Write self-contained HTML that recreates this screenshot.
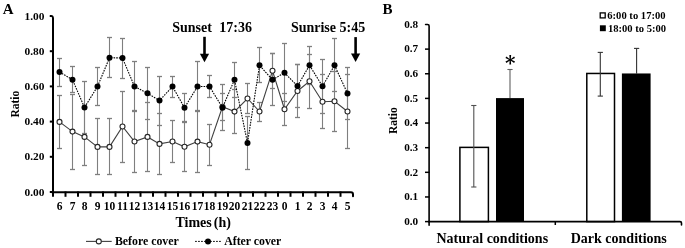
<!DOCTYPE html><html><head><meta charset="utf-8"><style>html,body{margin:0;padding:0;background:#fff;}svg{display:block;} text{font-family:"Liberation Serif","Times New Roman",serif;font-weight:bold;fill:#000;}</style></head><body>
<svg width="685" height="248" viewBox="0 0 685 248">
<rect x="0" y="0" width="685" height="248" fill="#fff"/>
<text x="2.7" y="13.8" font-size="15">A</text>
<line x1="59.50" y1="95.50" x2="59.50" y2="148.50" stroke="#7f7f7f" stroke-width="1.1"/><line x1="57.00" y1="95.50" x2="62.00" y2="95.50" stroke="#7f7f7f" stroke-width="1.3"/><line x1="57.00" y1="148.50" x2="62.00" y2="148.50" stroke="#7f7f7f" stroke-width="1.3"/>
<line x1="72.50" y1="94.50" x2="72.50" y2="169.50" stroke="#7f7f7f" stroke-width="1.1"/><line x1="70.00" y1="94.50" x2="75.00" y2="94.50" stroke="#7f7f7f" stroke-width="1.3"/><line x1="70.00" y1="169.50" x2="75.00" y2="169.50" stroke="#7f7f7f" stroke-width="1.3"/>
<line x1="84.50" y1="108.50" x2="84.50" y2="165.50" stroke="#7f7f7f" stroke-width="1.1"/><line x1="82.00" y1="108.50" x2="87.00" y2="108.50" stroke="#7f7f7f" stroke-width="1.3"/><line x1="82.00" y1="165.50" x2="87.00" y2="165.50" stroke="#7f7f7f" stroke-width="1.3"/>
<line x1="97.50" y1="118.50" x2="97.50" y2="174.50" stroke="#7f7f7f" stroke-width="1.1"/><line x1="95.00" y1="118.50" x2="100.00" y2="118.50" stroke="#7f7f7f" stroke-width="1.3"/><line x1="95.00" y1="174.50" x2="100.00" y2="174.50" stroke="#7f7f7f" stroke-width="1.3"/>
<line x1="109.50" y1="118.50" x2="109.50" y2="174.50" stroke="#7f7f7f" stroke-width="1.1"/><line x1="107.00" y1="118.50" x2="112.00" y2="118.50" stroke="#7f7f7f" stroke-width="1.3"/><line x1="107.00" y1="174.50" x2="112.00" y2="174.50" stroke="#7f7f7f" stroke-width="1.3"/>
<line x1="122.50" y1="91.50" x2="122.50" y2="162.50" stroke="#7f7f7f" stroke-width="1.1"/><line x1="120.00" y1="91.50" x2="125.00" y2="91.50" stroke="#7f7f7f" stroke-width="1.3"/><line x1="120.00" y1="162.50" x2="125.00" y2="162.50" stroke="#7f7f7f" stroke-width="1.3"/>
<line x1="134.50" y1="110.50" x2="134.50" y2="172.50" stroke="#7f7f7f" stroke-width="1.1"/><line x1="132.00" y1="110.50" x2="137.00" y2="110.50" stroke="#7f7f7f" stroke-width="1.3"/><line x1="132.00" y1="172.50" x2="137.00" y2="172.50" stroke="#7f7f7f" stroke-width="1.3"/>
<line x1="147.50" y1="102.50" x2="147.50" y2="171.50" stroke="#7f7f7f" stroke-width="1.1"/><line x1="145.00" y1="102.50" x2="150.00" y2="102.50" stroke="#7f7f7f" stroke-width="1.3"/><line x1="145.00" y1="171.50" x2="150.00" y2="171.50" stroke="#7f7f7f" stroke-width="1.3"/>
<line x1="159.50" y1="113.50" x2="159.50" y2="174.50" stroke="#7f7f7f" stroke-width="1.1"/><line x1="157.00" y1="113.50" x2="162.00" y2="113.50" stroke="#7f7f7f" stroke-width="1.3"/><line x1="157.00" y1="174.50" x2="162.00" y2="174.50" stroke="#7f7f7f" stroke-width="1.3"/>
<line x1="172.50" y1="120.50" x2="172.50" y2="162.50" stroke="#7f7f7f" stroke-width="1.1"/><line x1="170.00" y1="120.50" x2="175.00" y2="120.50" stroke="#7f7f7f" stroke-width="1.3"/><line x1="170.00" y1="162.50" x2="175.00" y2="162.50" stroke="#7f7f7f" stroke-width="1.3"/>
<line x1="184.50" y1="122.50" x2="184.50" y2="171.50" stroke="#7f7f7f" stroke-width="1.1"/><line x1="182.00" y1="122.50" x2="187.00" y2="122.50" stroke="#7f7f7f" stroke-width="1.3"/><line x1="182.00" y1="171.50" x2="187.00" y2="171.50" stroke="#7f7f7f" stroke-width="1.3"/>
<line x1="197.50" y1="110.50" x2="197.50" y2="172.50" stroke="#7f7f7f" stroke-width="1.1"/><line x1="195.00" y1="110.50" x2="200.00" y2="110.50" stroke="#7f7f7f" stroke-width="1.3"/><line x1="195.00" y1="172.50" x2="200.00" y2="172.50" stroke="#7f7f7f" stroke-width="1.3"/>
<line x1="209.50" y1="124.50" x2="209.50" y2="165.50" stroke="#7f7f7f" stroke-width="1.1"/><line x1="207.00" y1="124.50" x2="212.00" y2="124.50" stroke="#7f7f7f" stroke-width="1.3"/><line x1="207.00" y1="165.50" x2="212.00" y2="165.50" stroke="#7f7f7f" stroke-width="1.3"/>
<line x1="222.50" y1="93.50" x2="222.50" y2="120.50" stroke="#7f7f7f" stroke-width="1.1"/><line x1="220.00" y1="93.50" x2="225.00" y2="93.50" stroke="#7f7f7f" stroke-width="1.3"/><line x1="220.00" y1="120.50" x2="225.00" y2="120.50" stroke="#7f7f7f" stroke-width="1.3"/>
<line x1="234.50" y1="89.50" x2="234.50" y2="133.50" stroke="#7f7f7f" stroke-width="1.1"/><line x1="232.00" y1="89.50" x2="237.00" y2="89.50" stroke="#7f7f7f" stroke-width="1.3"/><line x1="232.00" y1="133.50" x2="237.00" y2="133.50" stroke="#7f7f7f" stroke-width="1.3"/>
<line x1="247.50" y1="83.50" x2="247.50" y2="113.50" stroke="#7f7f7f" stroke-width="1.1"/><line x1="245.00" y1="83.50" x2="250.00" y2="83.50" stroke="#7f7f7f" stroke-width="1.3"/><line x1="245.00" y1="113.50" x2="250.00" y2="113.50" stroke="#7f7f7f" stroke-width="1.3"/>
<line x1="259.50" y1="102.50" x2="259.50" y2="121.50" stroke="#7f7f7f" stroke-width="1.1"/><line x1="257.00" y1="102.50" x2="262.00" y2="102.50" stroke="#7f7f7f" stroke-width="1.3"/><line x1="257.00" y1="121.50" x2="262.00" y2="121.50" stroke="#7f7f7f" stroke-width="1.3"/>
<line x1="272.50" y1="53.50" x2="272.50" y2="88.50" stroke="#7f7f7f" stroke-width="1.1"/><line x1="270.00" y1="53.50" x2="275.00" y2="53.50" stroke="#7f7f7f" stroke-width="1.3"/><line x1="270.00" y1="88.50" x2="275.00" y2="88.50" stroke="#7f7f7f" stroke-width="1.3"/>
<line x1="284.50" y1="93.50" x2="284.50" y2="125.50" stroke="#7f7f7f" stroke-width="1.1"/><line x1="282.00" y1="93.50" x2="287.00" y2="93.50" stroke="#7f7f7f" stroke-width="1.3"/><line x1="282.00" y1="125.50" x2="287.00" y2="125.50" stroke="#7f7f7f" stroke-width="1.3"/>
<line x1="297.50" y1="64.50" x2="297.50" y2="117.50" stroke="#7f7f7f" stroke-width="1.1"/><line x1="295.00" y1="64.50" x2="300.00" y2="64.50" stroke="#7f7f7f" stroke-width="1.3"/><line x1="295.00" y1="117.50" x2="300.00" y2="117.50" stroke="#7f7f7f" stroke-width="1.3"/>
<line x1="309.50" y1="54.50" x2="309.50" y2="108.50" stroke="#7f7f7f" stroke-width="1.1"/><line x1="307.00" y1="54.50" x2="312.00" y2="54.50" stroke="#7f7f7f" stroke-width="1.3"/><line x1="307.00" y1="108.50" x2="312.00" y2="108.50" stroke="#7f7f7f" stroke-width="1.3"/>
<line x1="322.50" y1="74.50" x2="322.50" y2="128.50" stroke="#7f7f7f" stroke-width="1.1"/><line x1="320.00" y1="74.50" x2="325.00" y2="74.50" stroke="#7f7f7f" stroke-width="1.3"/><line x1="320.00" y1="128.50" x2="325.00" y2="128.50" stroke="#7f7f7f" stroke-width="1.3"/>
<line x1="334.50" y1="71.50" x2="334.50" y2="131.50" stroke="#7f7f7f" stroke-width="1.1"/><line x1="332.00" y1="71.50" x2="337.00" y2="71.50" stroke="#7f7f7f" stroke-width="1.3"/><line x1="332.00" y1="131.50" x2="337.00" y2="131.50" stroke="#7f7f7f" stroke-width="1.3"/>
<line x1="347.50" y1="74.50" x2="347.50" y2="148.50" stroke="#7f7f7f" stroke-width="1.1"/><line x1="345.00" y1="74.50" x2="350.00" y2="74.50" stroke="#7f7f7f" stroke-width="1.3"/><line x1="345.00" y1="148.50" x2="350.00" y2="148.50" stroke="#7f7f7f" stroke-width="1.3"/>
<line x1="59.50" y1="58.50" x2="59.50" y2="86.50" stroke="#7f7f7f" stroke-width="1.1"/><line x1="57.00" y1="58.50" x2="62.00" y2="58.50" stroke="#7f7f7f" stroke-width="1.3"/><line x1="57.00" y1="86.50" x2="62.00" y2="86.50" stroke="#7f7f7f" stroke-width="1.3"/>
<line x1="72.50" y1="66.50" x2="72.50" y2="92.50" stroke="#7f7f7f" stroke-width="1.1"/><line x1="70.00" y1="66.50" x2="75.00" y2="66.50" stroke="#7f7f7f" stroke-width="1.3"/><line x1="70.00" y1="92.50" x2="75.00" y2="92.50" stroke="#7f7f7f" stroke-width="1.3"/>
<line x1="84.50" y1="81.50" x2="84.50" y2="133.50" stroke="#7f7f7f" stroke-width="1.1"/><line x1="82.00" y1="81.50" x2="87.00" y2="81.50" stroke="#7f7f7f" stroke-width="1.3"/><line x1="82.00" y1="133.50" x2="87.00" y2="133.50" stroke="#7f7f7f" stroke-width="1.3"/>
<line x1="97.50" y1="67.50" x2="97.50" y2="105.50" stroke="#7f7f7f" stroke-width="1.1"/><line x1="95.00" y1="67.50" x2="100.00" y2="67.50" stroke="#7f7f7f" stroke-width="1.3"/><line x1="95.00" y1="105.50" x2="100.00" y2="105.50" stroke="#7f7f7f" stroke-width="1.3"/>
<line x1="109.50" y1="37.50" x2="109.50" y2="77.50" stroke="#7f7f7f" stroke-width="1.1"/><line x1="107.00" y1="37.50" x2="112.00" y2="37.50" stroke="#7f7f7f" stroke-width="1.3"/><line x1="107.00" y1="77.50" x2="112.00" y2="77.50" stroke="#7f7f7f" stroke-width="1.3"/>
<line x1="122.50" y1="38.50" x2="122.50" y2="78.50" stroke="#7f7f7f" stroke-width="1.1"/><line x1="120.00" y1="38.50" x2="125.00" y2="38.50" stroke="#7f7f7f" stroke-width="1.3"/><line x1="120.00" y1="78.50" x2="125.00" y2="78.50" stroke="#7f7f7f" stroke-width="1.3"/>
<line x1="134.50" y1="61.50" x2="134.50" y2="111.50" stroke="#7f7f7f" stroke-width="1.1"/><line x1="132.00" y1="61.50" x2="137.00" y2="61.50" stroke="#7f7f7f" stroke-width="1.3"/><line x1="132.00" y1="111.50" x2="137.00" y2="111.50" stroke="#7f7f7f" stroke-width="1.3"/>
<line x1="147.50" y1="67.50" x2="147.50" y2="119.50" stroke="#7f7f7f" stroke-width="1.1"/><line x1="145.00" y1="67.50" x2="150.00" y2="67.50" stroke="#7f7f7f" stroke-width="1.3"/><line x1="145.00" y1="119.50" x2="150.00" y2="119.50" stroke="#7f7f7f" stroke-width="1.3"/>
<line x1="159.50" y1="76.50" x2="159.50" y2="125.50" stroke="#7f7f7f" stroke-width="1.1"/><line x1="157.00" y1="76.50" x2="162.00" y2="76.50" stroke="#7f7f7f" stroke-width="1.3"/><line x1="157.00" y1="125.50" x2="162.00" y2="125.50" stroke="#7f7f7f" stroke-width="1.3"/>
<line x1="172.50" y1="76.50" x2="172.50" y2="97.50" stroke="#7f7f7f" stroke-width="1.1"/><line x1="170.00" y1="76.50" x2="175.00" y2="76.50" stroke="#7f7f7f" stroke-width="1.3"/><line x1="170.00" y1="97.50" x2="175.00" y2="97.50" stroke="#7f7f7f" stroke-width="1.3"/>
<line x1="184.50" y1="93.50" x2="184.50" y2="121.50" stroke="#7f7f7f" stroke-width="1.1"/><line x1="182.00" y1="93.50" x2="187.00" y2="93.50" stroke="#7f7f7f" stroke-width="1.3"/><line x1="182.00" y1="121.50" x2="187.00" y2="121.50" stroke="#7f7f7f" stroke-width="1.3"/>
<line x1="197.50" y1="61.50" x2="197.50" y2="111.50" stroke="#7f7f7f" stroke-width="1.1"/><line x1="195.00" y1="61.50" x2="200.00" y2="61.50" stroke="#7f7f7f" stroke-width="1.3"/><line x1="195.00" y1="111.50" x2="200.00" y2="111.50" stroke="#7f7f7f" stroke-width="1.3"/>
<line x1="209.50" y1="75.50" x2="209.50" y2="97.50" stroke="#7f7f7f" stroke-width="1.1"/><line x1="207.00" y1="75.50" x2="212.00" y2="75.50" stroke="#7f7f7f" stroke-width="1.3"/><line x1="207.00" y1="97.50" x2="212.00" y2="97.50" stroke="#7f7f7f" stroke-width="1.3"/>
<line x1="222.50" y1="84.50" x2="222.50" y2="130.50" stroke="#7f7f7f" stroke-width="1.1"/><line x1="220.00" y1="84.50" x2="225.00" y2="84.50" stroke="#7f7f7f" stroke-width="1.3"/><line x1="220.00" y1="130.50" x2="225.00" y2="130.50" stroke="#7f7f7f" stroke-width="1.3"/>
<line x1="234.50" y1="62.50" x2="234.50" y2="97.50" stroke="#7f7f7f" stroke-width="1.1"/><line x1="232.00" y1="62.50" x2="237.00" y2="62.50" stroke="#7f7f7f" stroke-width="1.3"/><line x1="232.00" y1="97.50" x2="237.00" y2="97.50" stroke="#7f7f7f" stroke-width="1.3"/>
<line x1="247.50" y1="116.50" x2="247.50" y2="169.50" stroke="#7f7f7f" stroke-width="1.1"/><line x1="245.00" y1="116.50" x2="250.00" y2="116.50" stroke="#7f7f7f" stroke-width="1.3"/><line x1="245.00" y1="169.50" x2="250.00" y2="169.50" stroke="#7f7f7f" stroke-width="1.3"/>
<line x1="259.50" y1="47.50" x2="259.50" y2="82.50" stroke="#7f7f7f" stroke-width="1.1"/><line x1="257.00" y1="47.50" x2="262.00" y2="47.50" stroke="#7f7f7f" stroke-width="1.3"/><line x1="257.00" y1="82.50" x2="262.00" y2="82.50" stroke="#7f7f7f" stroke-width="1.3"/>
<line x1="272.50" y1="53.50" x2="272.50" y2="105.50" stroke="#7f7f7f" stroke-width="1.1"/><line x1="270.00" y1="53.50" x2="275.00" y2="53.50" stroke="#7f7f7f" stroke-width="1.3"/><line x1="270.00" y1="105.50" x2="275.00" y2="105.50" stroke="#7f7f7f" stroke-width="1.3"/>
<line x1="284.50" y1="43.50" x2="284.50" y2="101.50" stroke="#7f7f7f" stroke-width="1.1"/><line x1="282.00" y1="43.50" x2="287.00" y2="43.50" stroke="#7f7f7f" stroke-width="1.3"/><line x1="282.00" y1="101.50" x2="287.00" y2="101.50" stroke="#7f7f7f" stroke-width="1.3"/>
<line x1="297.50" y1="64.50" x2="297.50" y2="107.50" stroke="#7f7f7f" stroke-width="1.1"/><line x1="295.00" y1="64.50" x2="300.00" y2="64.50" stroke="#7f7f7f" stroke-width="1.3"/><line x1="295.00" y1="107.50" x2="300.00" y2="107.50" stroke="#7f7f7f" stroke-width="1.3"/>
<line x1="309.50" y1="46.50" x2="309.50" y2="84.50" stroke="#7f7f7f" stroke-width="1.1"/><line x1="307.00" y1="46.50" x2="312.00" y2="46.50" stroke="#7f7f7f" stroke-width="1.3"/><line x1="307.00" y1="84.50" x2="312.00" y2="84.50" stroke="#7f7f7f" stroke-width="1.3"/>
<line x1="322.50" y1="59.50" x2="322.50" y2="113.50" stroke="#7f7f7f" stroke-width="1.1"/><line x1="320.00" y1="59.50" x2="325.00" y2="59.50" stroke="#7f7f7f" stroke-width="1.3"/><line x1="320.00" y1="113.50" x2="325.00" y2="113.50" stroke="#7f7f7f" stroke-width="1.3"/>
<line x1="334.50" y1="38.50" x2="334.50" y2="91.50" stroke="#7f7f7f" stroke-width="1.1"/><line x1="332.00" y1="38.50" x2="337.00" y2="38.50" stroke="#7f7f7f" stroke-width="1.3"/><line x1="332.00" y1="91.50" x2="337.00" y2="91.50" stroke="#7f7f7f" stroke-width="1.3"/>
<line x1="347.50" y1="67.50" x2="347.50" y2="119.50" stroke="#7f7f7f" stroke-width="1.1"/><line x1="345.00" y1="67.50" x2="350.00" y2="67.50" stroke="#7f7f7f" stroke-width="1.3"/><line x1="345.00" y1="119.50" x2="350.00" y2="119.50" stroke="#7f7f7f" stroke-width="1.3"/>
<polyline points="59.50,121.90 72.50,131.60 84.50,136.90 97.50,146.90 109.50,146.90 122.50,126.50 134.50,141.50 147.50,136.90 159.50,143.90 172.50,141.50 184.50,146.80 197.50,141.60 209.50,144.70 222.50,106.70 234.50,111.60 247.50,98.50 259.50,111.50 272.50,70.80 284.50,109.20 297.50,91.00 309.50,81.20 322.50,101.70 334.50,101.30 347.50,111.50" fill="none" stroke="#404040" stroke-width="1.1"/>
<polyline points="59.50,72.00 72.50,79.70 84.50,107.50 97.50,86.50 109.50,57.70 122.50,58.00 134.50,86.50 147.50,93.30 159.50,100.60 172.50,86.50 184.50,107.70 197.50,86.50 209.50,86.50 222.50,107.70 234.50,79.70 247.50,143.00 259.50,65.30 272.50,79.70 284.50,72.80 297.50,86.10 309.50,65.30 322.50,86.30 334.50,65.30 347.50,93.40" fill="none" stroke="#000" stroke-width="1.1" stroke-dasharray="1.6,1.1"/>
<circle cx="59.50" cy="121.90" r="2.5" fill="#fff" stroke="#262626" stroke-width="1.1"/>
<circle cx="72.50" cy="131.60" r="2.5" fill="#fff" stroke="#262626" stroke-width="1.1"/>
<circle cx="84.50" cy="136.90" r="2.5" fill="#fff" stroke="#262626" stroke-width="1.1"/>
<circle cx="97.50" cy="146.90" r="2.5" fill="#fff" stroke="#262626" stroke-width="1.1"/>
<circle cx="109.50" cy="146.90" r="2.5" fill="#fff" stroke="#262626" stroke-width="1.1"/>
<circle cx="122.50" cy="126.50" r="2.5" fill="#fff" stroke="#262626" stroke-width="1.1"/>
<circle cx="134.50" cy="141.50" r="2.5" fill="#fff" stroke="#262626" stroke-width="1.1"/>
<circle cx="147.50" cy="136.90" r="2.5" fill="#fff" stroke="#262626" stroke-width="1.1"/>
<circle cx="159.50" cy="143.90" r="2.5" fill="#fff" stroke="#262626" stroke-width="1.1"/>
<circle cx="172.50" cy="141.50" r="2.5" fill="#fff" stroke="#262626" stroke-width="1.1"/>
<circle cx="184.50" cy="146.80" r="2.5" fill="#fff" stroke="#262626" stroke-width="1.1"/>
<circle cx="197.50" cy="141.60" r="2.5" fill="#fff" stroke="#262626" stroke-width="1.1"/>
<circle cx="209.50" cy="144.70" r="2.5" fill="#fff" stroke="#262626" stroke-width="1.1"/>
<circle cx="222.50" cy="106.70" r="2.5" fill="#fff" stroke="#262626" stroke-width="1.1"/>
<circle cx="234.50" cy="111.60" r="2.5" fill="#fff" stroke="#262626" stroke-width="1.1"/>
<circle cx="247.50" cy="98.50" r="2.5" fill="#fff" stroke="#262626" stroke-width="1.1"/>
<circle cx="259.50" cy="111.50" r="2.5" fill="#fff" stroke="#262626" stroke-width="1.1"/>
<circle cx="272.50" cy="70.80" r="2.5" fill="#fff" stroke="#262626" stroke-width="1.1"/>
<circle cx="284.50" cy="109.20" r="2.5" fill="#fff" stroke="#262626" stroke-width="1.1"/>
<circle cx="297.50" cy="91.00" r="2.5" fill="#fff" stroke="#262626" stroke-width="1.1"/>
<circle cx="309.50" cy="81.20" r="2.5" fill="#fff" stroke="#262626" stroke-width="1.1"/>
<circle cx="322.50" cy="101.70" r="2.5" fill="#fff" stroke="#262626" stroke-width="1.1"/>
<circle cx="334.50" cy="101.30" r="2.5" fill="#fff" stroke="#262626" stroke-width="1.1"/>
<circle cx="347.50" cy="111.50" r="2.5" fill="#fff" stroke="#262626" stroke-width="1.1"/>
<circle cx="59.50" cy="72.00" r="3" fill="#000"/>
<circle cx="72.50" cy="79.70" r="3" fill="#000"/>
<circle cx="84.50" cy="107.50" r="3" fill="#000"/>
<circle cx="97.50" cy="86.50" r="3" fill="#000"/>
<circle cx="109.50" cy="57.70" r="3" fill="#000"/>
<circle cx="122.50" cy="58.00" r="3" fill="#000"/>
<circle cx="134.50" cy="86.50" r="3" fill="#000"/>
<circle cx="147.50" cy="93.30" r="3" fill="#000"/>
<circle cx="159.50" cy="100.60" r="3" fill="#000"/>
<circle cx="172.50" cy="86.50" r="3" fill="#000"/>
<circle cx="184.50" cy="107.70" r="3" fill="#000"/>
<circle cx="197.50" cy="86.50" r="3" fill="#000"/>
<circle cx="209.50" cy="86.50" r="3" fill="#000"/>
<circle cx="222.50" cy="107.70" r="3" fill="#000"/>
<circle cx="234.50" cy="79.70" r="3" fill="#000"/>
<circle cx="247.50" cy="143.00" r="3" fill="#000"/>
<circle cx="259.50" cy="65.30" r="3" fill="#000"/>
<circle cx="272.50" cy="79.70" r="3" fill="#000"/>
<circle cx="284.50" cy="72.80" r="3" fill="#000"/>
<circle cx="297.50" cy="86.10" r="3" fill="#000"/>
<circle cx="309.50" cy="65.30" r="3" fill="#000"/>
<circle cx="322.50" cy="86.30" r="3" fill="#000"/>
<circle cx="334.50" cy="65.30" r="3" fill="#000"/>
<circle cx="347.50" cy="93.40" r="3" fill="#000"/>
<path d="M50.6,16 Q53,15.6 53,18.5 L53,193" fill="none" stroke="#000" stroke-width="2" stroke-linecap="round"/>
<path d="M52,192.2 L351,192.2 Q353,192.2 353,194.5 L353,196.2" fill="none" stroke="#000" stroke-width="2" stroke-linecap="round"/>
<line x1="49.8" y1="192.00" x2="54" y2="192.00" stroke="#000" stroke-width="2"/>
<text x="44.5" y="195.50" font-size="11.4" text-anchor="end">0.00</text>
<line x1="49.8" y1="156.80" x2="54" y2="156.80" stroke="#000" stroke-width="2"/>
<text x="44.5" y="160.30" font-size="11.4" text-anchor="end">0.20</text>
<line x1="49.8" y1="121.60" x2="54" y2="121.60" stroke="#000" stroke-width="2"/>
<text x="44.5" y="125.10" font-size="11.4" text-anchor="end">0.40</text>
<line x1="49.8" y1="86.40" x2="54" y2="86.40" stroke="#000" stroke-width="2"/>
<text x="44.5" y="89.90" font-size="11.4" text-anchor="end">0.60</text>
<line x1="49.8" y1="51.20" x2="54" y2="51.20" stroke="#000" stroke-width="2"/>
<text x="44.5" y="54.70" font-size="11.4" text-anchor="end">0.80</text>
<text x="44.5" y="19.50" font-size="11.4" text-anchor="end">1.00</text>
<line x1="53.00" y1="191.5" x2="53.00" y2="196.8" stroke="#000" stroke-width="2"/>
<line x1="65.50" y1="191.5" x2="65.50" y2="196.8" stroke="#000" stroke-width="2"/>
<line x1="78.00" y1="191.5" x2="78.00" y2="196.8" stroke="#000" stroke-width="2"/>
<line x1="90.50" y1="191.5" x2="90.50" y2="196.8" stroke="#000" stroke-width="2"/>
<line x1="103.00" y1="191.5" x2="103.00" y2="196.8" stroke="#000" stroke-width="2"/>
<line x1="115.50" y1="191.5" x2="115.50" y2="196.8" stroke="#000" stroke-width="2"/>
<line x1="128.00" y1="191.5" x2="128.00" y2="196.8" stroke="#000" stroke-width="2"/>
<line x1="140.50" y1="191.5" x2="140.50" y2="196.8" stroke="#000" stroke-width="2"/>
<line x1="153.00" y1="191.5" x2="153.00" y2="196.8" stroke="#000" stroke-width="2"/>
<line x1="165.50" y1="191.5" x2="165.50" y2="196.8" stroke="#000" stroke-width="2"/>
<line x1="178.00" y1="191.5" x2="178.00" y2="196.8" stroke="#000" stroke-width="2"/>
<line x1="190.50" y1="191.5" x2="190.50" y2="196.8" stroke="#000" stroke-width="2"/>
<line x1="203.00" y1="191.5" x2="203.00" y2="196.8" stroke="#000" stroke-width="2"/>
<line x1="215.50" y1="191.5" x2="215.50" y2="196.8" stroke="#000" stroke-width="2"/>
<line x1="228.00" y1="191.5" x2="228.00" y2="196.8" stroke="#000" stroke-width="2"/>
<line x1="240.50" y1="191.5" x2="240.50" y2="196.8" stroke="#000" stroke-width="2"/>
<line x1="253.00" y1="191.5" x2="253.00" y2="196.8" stroke="#000" stroke-width="2"/>
<line x1="265.50" y1="191.5" x2="265.50" y2="196.8" stroke="#000" stroke-width="2"/>
<line x1="278.00" y1="191.5" x2="278.00" y2="196.8" stroke="#000" stroke-width="2"/>
<line x1="290.50" y1="191.5" x2="290.50" y2="196.8" stroke="#000" stroke-width="2"/>
<line x1="303.00" y1="191.5" x2="303.00" y2="196.8" stroke="#000" stroke-width="2"/>
<line x1="315.50" y1="191.5" x2="315.50" y2="196.8" stroke="#000" stroke-width="2"/>
<line x1="328.00" y1="191.5" x2="328.00" y2="196.8" stroke="#000" stroke-width="2"/>
<line x1="340.50" y1="191.5" x2="340.50" y2="196.8" stroke="#000" stroke-width="2"/>
<text x="59.50" y="209.9" font-size="11.5" text-anchor="middle">6</text>
<text x="72.50" y="209.9" font-size="11.5" text-anchor="middle">7</text>
<text x="84.50" y="209.9" font-size="11.5" text-anchor="middle">8</text>
<text x="97.50" y="209.9" font-size="11.5" text-anchor="middle">9</text>
<text x="109.50" y="209.9" font-size="11.5" text-anchor="middle">10</text>
<text x="122.50" y="209.9" font-size="11.5" text-anchor="middle">11</text>
<text x="134.50" y="209.9" font-size="11.5" text-anchor="middle">12</text>
<text x="147.50" y="209.9" font-size="11.5" text-anchor="middle">13</text>
<text x="159.50" y="209.9" font-size="11.5" text-anchor="middle">14</text>
<text x="172.50" y="209.9" font-size="11.5" text-anchor="middle">15</text>
<text x="184.50" y="209.9" font-size="11.5" text-anchor="middle">16</text>
<text x="197.50" y="209.9" font-size="11.5" text-anchor="middle">17</text>
<text x="209.50" y="209.9" font-size="11.5" text-anchor="middle">18</text>
<text x="222.50" y="209.9" font-size="11.5" text-anchor="middle">19</text>
<text x="234.50" y="209.9" font-size="11.5" text-anchor="middle">20</text>
<text x="247.50" y="209.9" font-size="11.5" text-anchor="middle">21</text>
<text x="259.50" y="209.9" font-size="11.5" text-anchor="middle">22</text>
<text x="272.50" y="209.9" font-size="11.5" text-anchor="middle">23</text>
<text x="284.50" y="209.9" font-size="11.5" text-anchor="middle">0</text>
<text x="297.50" y="209.9" font-size="11.5" text-anchor="middle">1</text>
<text x="309.50" y="209.9" font-size="11.5" text-anchor="middle">2</text>
<text x="322.50" y="209.9" font-size="11.5" text-anchor="middle">3</text>
<text x="334.50" y="209.9" font-size="11.5" text-anchor="middle">4</text>
<text x="347.50" y="209.9" font-size="11.5" text-anchor="middle">5</text>
<text x="203.2" y="227.1" font-size="14" word-spacing="-1.5" text-anchor="middle">Times (h)</text>
<text transform="translate(19.4,104.2) rotate(-90)" font-size="11.5" text-anchor="middle">Ratio</text>
<text x="172.2" y="32.3" font-size="14">Sunset</text>
<text x="219.3" y="32.3" font-size="14">17:36</text>
<text x="290.9" y="32.3" font-size="14">Sunrise 5:45</text>
<line x1="204.5" y1="36.8" x2="204.5" y2="55.3" stroke="#000" stroke-width="2.6"/><polygon points="199.9,53.8 209.1,53.8 204.5,62.3" fill="#000"/>
<line x1="355.6" y1="37.1" x2="355.6" y2="55" stroke="#000" stroke-width="2.6"/><polygon points="351.0,53.5 360.20000000000005,53.5 355.6,62" fill="#000"/>
<line x1="86" y1="241.4" x2="111.7" y2="241.4" stroke="#404040" stroke-width="1.1"/>
<circle cx="98.8" cy="241.4" r="2.5" fill="#fff" stroke="#262626" stroke-width="1.1"/>
<text x="115" y="244.8" font-size="11.8">Before cover</text>
<line x1="195.1" y1="241.4" x2="221.1" y2="241.4" stroke="#000" stroke-width="1" stroke-dasharray="1.7,1.3"/>
<circle cx="208" cy="241.4" r="3" fill="#000"/>
<text x="224.2" y="244.8" font-size="11.8">After cover</text>
<text x="382.5" y="14.2" font-size="15">B</text>
<rect x="459.90" y="147.38" width="28.50" height="74.22" fill="#fff" stroke="#000" stroke-width="1.5"/>
<rect x="496.00" y="98.10" width="28.00" height="123.50" fill="#000"/>
<rect x="586.80" y="73.46" width="27.70" height="148.14" fill="#fff" stroke="#000" stroke-width="1.5"/>
<rect x="621.90" y="73.46" width="28.70" height="148.14" fill="#000"/>
<line x1="473.8" y1="105.5" x2="473.8" y2="187.0" stroke="#505050" stroke-width="1.1"/><line x1="471.2" y1="105.5" x2="476.40000000000003" y2="105.5" stroke="#505050" stroke-width="1.1"/><line x1="471.2" y1="187.0" x2="476.40000000000003" y2="187.0" stroke="#505050" stroke-width="1.1"/>
<line x1="510.0" y1="69.5" x2="510.0" y2="98" stroke="#606060" stroke-width="1.1"/><line x1="507.4" y1="69.5" x2="512.6" y2="69.5" stroke="#606060" stroke-width="1.1"/>
<line x1="600.3" y1="52.4" x2="600.3" y2="96.1" stroke="#333" stroke-width="1.1"/><line x1="597.6999999999999" y1="52.4" x2="602.9" y2="52.4" stroke="#333" stroke-width="1.1"/><line x1="597.6999999999999" y1="96.1" x2="602.9" y2="96.1" stroke="#333" stroke-width="1.1"/>
<line x1="636.6" y1="48.4" x2="636.6" y2="73.8" stroke="#333" stroke-width="1.1"/><line x1="634.0" y1="48.4" x2="639.2" y2="48.4" stroke="#333" stroke-width="1.1"/>
<text x="505" y="69.5" font-size="20" style="font-family:'DejaVu Serif',serif">*</text>
<path d="M425.6,24.5 L427.6,24.5 Q429.1,24.5 429.1,26 L429.1,225.2" fill="none" stroke="#000" stroke-width="1.6" stroke-linecap="round"/>
<path d="M428.4,221.6 L680,221.6 Q681.5,221.6 681.5,223.1 L681.5,225" fill="none" stroke="#000" stroke-width="1.6" stroke-linecap="round"/>
<line x1="425" y1="221.60" x2="429.5" y2="221.60" stroke="#000" stroke-width="1.5"/>
<text x="418.2" y="224.90" font-size="11.2" text-anchor="end">0.0</text>
<line x1="425" y1="196.96" x2="429.5" y2="196.96" stroke="#000" stroke-width="1.5"/>
<text x="418.2" y="200.26" font-size="11.2" text-anchor="end">0.1</text>
<line x1="425" y1="172.32" x2="429.5" y2="172.32" stroke="#000" stroke-width="1.5"/>
<text x="418.2" y="175.62" font-size="11.2" text-anchor="end">0.2</text>
<line x1="425" y1="147.68" x2="429.5" y2="147.68" stroke="#000" stroke-width="1.5"/>
<text x="418.2" y="150.98" font-size="11.2" text-anchor="end">0.3</text>
<line x1="425" y1="123.04" x2="429.5" y2="123.04" stroke="#000" stroke-width="1.5"/>
<text x="418.2" y="126.34" font-size="11.2" text-anchor="end">0.4</text>
<line x1="425" y1="98.40" x2="429.5" y2="98.40" stroke="#000" stroke-width="1.5"/>
<text x="418.2" y="101.70" font-size="11.2" text-anchor="end">0.5</text>
<line x1="425" y1="73.76" x2="429.5" y2="73.76" stroke="#000" stroke-width="1.5"/>
<text x="418.2" y="77.06" font-size="11.2" text-anchor="end">0.6</text>
<line x1="425" y1="49.12" x2="429.5" y2="49.12" stroke="#000" stroke-width="1.5"/>
<text x="418.2" y="52.42" font-size="11.2" text-anchor="end">0.7</text>
<text x="418.2" y="27.78" font-size="11.2" text-anchor="end">0.8</text>
<line x1="555.3" y1="221" x2="555.3" y2="225" stroke="#000" stroke-width="1.5"/>
<text x="492.3" y="242.6" font-size="14" text-anchor="middle">Natural conditions</text>
<text x="618.8" y="242.6" font-size="14" text-anchor="middle">Dark conditions</text>
<text transform="translate(397.4,120.6) rotate(-90)" font-size="11.5" text-anchor="middle">Ratio</text>
<rect x="600.2" y="12.9" width="5" height="5" fill="#fff" stroke="#000" stroke-width="1.3"/>
<rect x="599.9" y="25.3" width="5.9" height="5.9" fill="#000"/>
<text x="607.3" y="18.9" font-size="10.6">6:00 to 17:00</text>
<text x="607.9" y="31.7" font-size="10.6">18:00 to 5:00</text>
</svg></body></html>
